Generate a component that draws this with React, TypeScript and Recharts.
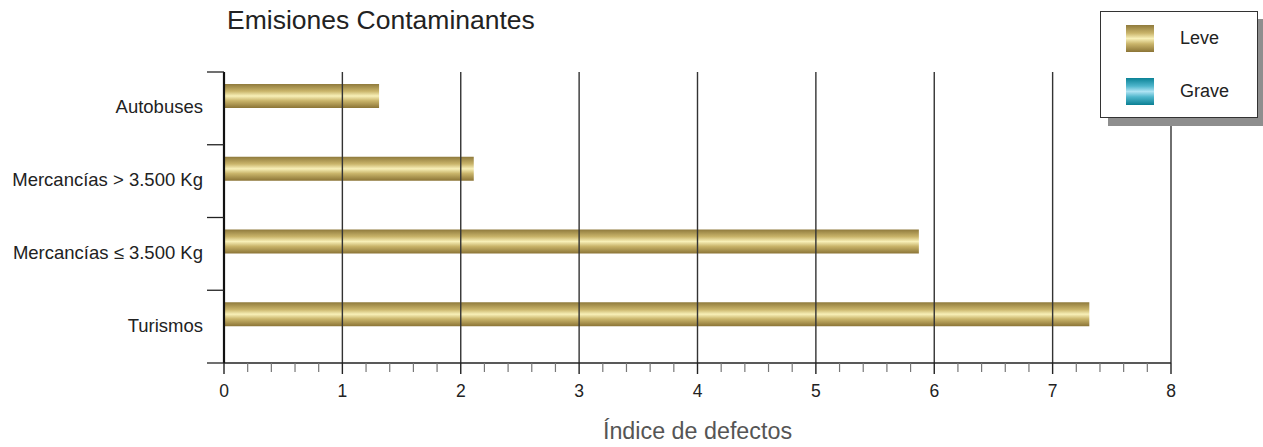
import React from 'react';
import { BarChart, Bar, XAxis, YAxis, ReferenceLine } from 'recharts';

const categories = ['Autobuses', 'Mercancías > 3.500 Kg', 'Mercancías ≤ 3.500 Kg', 'Turismos'];
const leveValues = [1.31, 2.11, 5.87, 7.31];
const graveValues = [0, 0, 0, 0];
const majorTicks = [0, 1, 2, 3, 4, 5, 6, 7, 8];
const minorFractions = [0.2, 0.4, 0.6, 0.8];
const seriesNames = ['Leve', 'Grave'];
const title = 'Emisiones Contaminantes';
const xTitle = 'Índice de defectos';

const data = categories.map((c, i) => ({ name: c, leve: leveValues[i], grave: graveValues[i] }));
const minorTicks = majorTicks.slice(0, -1).flatMap((m) => minorFractions.map((f) => Math.round((m + f) * 10) / 10));
const allTicks = [...majorTicks, ...minorTicks].sort((a, b) => a - b);

const W = 1263;
const H = 447;
const PLOT_LEFT = 224;
const PLOT_RIGHT = 1171;
const PLOT_TOP = 72;
const PLOT_BOTTOM = 363;
const FONT = '"Liberation Sans", Arial, Helvetica, sans-serif';

const GOLD = 'linear-gradient(to bottom, #8f7a3c 0%, #c9b46a 30%, #f8f0b8 50%, #c9b46a 70%, #8b7436 100%)';
const TEAL = 'linear-gradient(to bottom, #0a8296 0%, #4fb6cc 30%, #aee3f3 50%, #4fb6cc 70%, #0a7f93 100%)';

const YTick = (props: any) => {
  const { y, payload, index } = props;
  const band = (PLOT_BOTTOM - PLOT_TOP) / categories.length;
  return (
    <g>
      <text x={PLOT_LEFT - 21} y={y} dy={5} textAnchor="end" fontSize={18.5} fill="#222" fontFamily={FONT}>
        {payload.value}
      </text>
      <line x1={PLOT_LEFT - 17} x2={PLOT_LEFT} y1={y - band / 2} y2={y - band / 2} stroke="#222" strokeWidth={1.3} />
      {index === categories.length - 1 && (
        <line x1={PLOT_LEFT - 17} x2={PLOT_LEFT} y1={y + band / 2} y2={y + band / 2} stroke="#222" strokeWidth={1.3} />
      )}
    </g>
  );
};

const XTick = (props: any) => {
  const { x, payload } = props;
  const v = payload.value;
  const isMajor = majorTicks.includes(v);
  return (
    <g>
      <line
        x1={x}
        x2={x}
        y1={PLOT_BOTTOM}
        y2={PLOT_BOTTOM + (isMajor ? 11 : 9)}
        stroke={isMajor ? '#222' : '#777'}
        strokeWidth={isMajor ? 1.4 : 1.2}
      />
      {isMajor && (
        <text x={x} y={PLOT_BOTTOM + 34} textAnchor="middle" fontSize={17.5} fill="#222" fontFamily={FONT}>
          {v}
        </text>
      )}
    </g>
  );
};

export default function App() {
  return (
    <div style={{ position: 'absolute', left: 0, top: 0, width: W, height: H, background: '#fff', fontFamily: FONT }}>
      <BarChart
        width={W}
        height={H}
        data={data}
        layout="vertical"
        margin={{ top: PLOT_TOP, right: W - PLOT_RIGHT, bottom: 44, left: 0 }}
        barGap={0}
        barCategoryGap="17%"
      >
        <defs>
          <linearGradient id="gold" x1="0" y1="0" x2="0" y2="1">
            <stop offset="0%" stopColor="#8f7a3c" />
            <stop offset="30%" stopColor="#c9b46a" />
            <stop offset="50%" stopColor="#f8f0b8" />
            <stop offset="70%" stopColor="#c9b46a" />
            <stop offset="100%" stopColor="#8b7436" />
          </linearGradient>
          <linearGradient id="teal" x1="0" y1="0" x2="0" y2="1">
            <stop offset="0%" stopColor="#0a8296" />
            <stop offset="30%" stopColor="#4fb6cc" />
            <stop offset="50%" stopColor="#aee3f3" />
            <stop offset="70%" stopColor="#4fb6cc" />
            <stop offset="100%" stopColor="#0a7f93" />
          </linearGradient>
        </defs>
        <XAxis
          type="number"
          domain={[0, 8]}
          ticks={allTicks}
          interval={0}
          height={40}
          tickLine={false}
          axisLine={{ stroke: '#222', strokeWidth: 1.4 }}
          tick={<XTick />}
        />
        <XAxis
          xAxisId="top"
          orientation="top"
          type="number"
          domain={[0, 8]}
          height={0}
          tick={false}
          tickLine={false}
          axisLine={{ stroke: '#222', strokeWidth: 1.3 }}
        />
        <YAxis
          type="category"
          dataKey="name"
          width={PLOT_LEFT}
          tickLine={false}
          axisLine={{ stroke: '#111', strokeWidth: 2.2 }}
          tick={<YTick />}
          interval={0}
        />
        {majorTicks.slice(1).map((t) => (
          <ReferenceLine key={t} x={t} stroke="#333" strokeWidth={1.4} ifOverflow="extendDomain" />
        ))}
        <Bar dataKey="leve" name={seriesNames[0]} fill="url(#gold)" barSize={24} isAnimationActive={false} />
        <Bar dataKey="grave" name={seriesNames[1]} fill="url(#teal)" barSize={24} isAnimationActive={false} />
      </BarChart>

      <div style={{ position: 'absolute', left: 227, top: 7, fontSize: 26.5, lineHeight: '27px', color: '#222', whiteSpace: 'nowrap' }}>
        {title}
      </div>
      <div
        style={{
          position: 'absolute',
          left: PLOT_LEFT,
          width: PLOT_RIGHT - PLOT_LEFT,
          top: 420,
          fontSize: 23.3,
          lineHeight: '23px',
          color: '#555',
          textAlign: 'center',
          whiteSpace: 'nowrap',
        }}
      >
        {xTitle}
      </div>

      <div
        style={{
          position: 'absolute',
          left: 1100,
          top: 11,
          width: 156,
          height: 105,
          border: '1.5px solid #333',
          background: '#fff',
          boxShadow: '8px 8px 0 #8e8e8e',
        }}
      >
        {seriesNames.map((s, i) => (
          <div key={s} style={{ position: 'absolute', left: 0, top: 12 + i * 53, height: 28, width: 156 }}>
            <div style={{ position: 'absolute', left: 25, top: 1, width: 28, height: 27, background: i === 0 ? GOLD : TEAL }} />
            <div style={{ position: 'absolute', left: 79, top: 4, fontSize: 18, lineHeight: '20px', color: '#222' }}>{s}</div>
          </div>
        ))}
      </div>
    </div>
  );
}
